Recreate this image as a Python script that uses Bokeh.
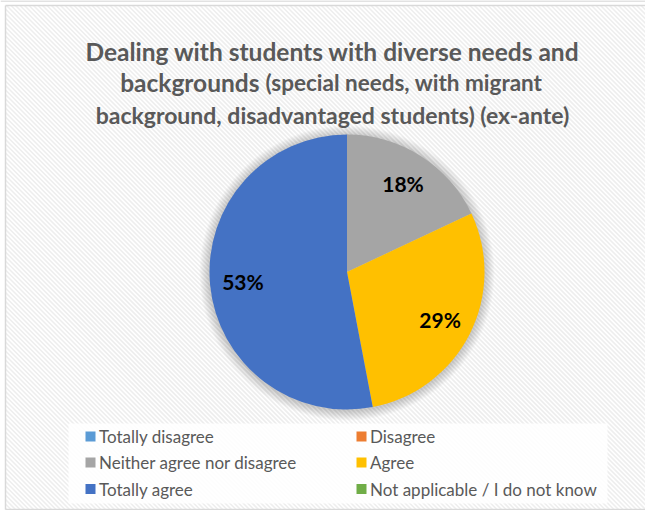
import numpy as np
from bokeh.plotting import figure
from bokeh.models import Range1d, ColumnDataSource
from bokeh.core.properties import value
from bokeh.embed import file_html
from bokeh.resources import INLINE

# ---- data ----
categories = ["Totally disagree", "Disagree", "Neither agree nor disagree",
              "Agree", "Totally agree", "Not applicable / I do not know"]
values = [0, 0, 18, 29, 53, 0]
colors = ["#5B9BD5", "#ED7D31", "#A5A5A5", "#FFC000", "#4472C4", "#70AD47"]
title_line1 = "Dealing with students with diverse needs and"
title_line2a = "backgrounds"
title_line2b = "(special needs, with migrant"
title_line3 = "background, disadvantaged students) (ex-ante)"

# ---- layout: data x = pixel x, data y = H - pixel y ----
W, H = 645, 510
FONT = "Lato"
TXT = "#595959"


def Y(py):
    return H - py


cx, cy, R = 346.5, Y(271.5), 137.5

p = figure(width=W, height=H, output_backend="svg", toolbar_location=None,
           x_range=Range1d(0, W), y_range=Range1d(0, H),
           min_border=0, outline_line_color=None)
p.axis.visible = False
p.grid.visible = False
p.background_fill_color = "white"
p.border_fill_color = "white"

# striped chart background inside the chart frame
fl, ft, fr, fb = 5, 5, W, 509
cs = np.arange(-(fr - fl) - (fb - ft), (fb - ft) + (fr - fl), 4.5)
xs0, ys0, xs1, ys1 = [], [], [], []
for c in cs:          # screen line: py = x + c
    xa = max(fl, ft - c)
    xb = min(fr, fb - c)
    if xb > xa:
        xs0.append(xa); ys0.append(Y(xa + c))
        xs1.append(xb); ys1.append(Y(xb + c))
p.segment(x0=xs0, y0=ys0, x1=xs1, y1=ys1, line_color="#EEEEEE", line_width=1.6)

# chart frame
p.segment(x0=[fl, fl, fl], y0=[Y(ft), Y(ft), Y(fb)], x1=[fl, fr, fr],
          y1=[Y(fb), Y(ft), Y(fb)], line_color="#D9D9D9", line_width=1.5)
p.segment(x0=[0], y0=[Y(0.5)], x1=[W], y1=[Y(0.5)], line_color="#D9D9D9", line_width=1.5)

# soft shadow around the pie
for k in range(1, 11):
    p.circle(x=[cx], y=[cy - 1], radius=R + k, fill_color="black",
             fill_alpha=0.018, line_color=None)

# wedges
vals = np.array(values, dtype=float)
frac = vals / vals.sum()
cum = np.concatenate([[0], np.cumsum(frac)])
start = np.pi / 2 - 2 * np.pi * cum[:-1]
end = np.pi / 2 - 2 * np.pi * cum[1:]
mask = vals > 0
src = ColumnDataSource(dict(start=start[mask], end=end[mask],
                            color=[c for c, m in zip(colors, mask) if m]))
p.wedge(x=cx, y=cy, radius=R, start_angle="start", end_angle="end",
        direction="clock", fill_color="color", line_color=None, source=src)

# percentage labels
mid = (start + end) / 2
lr = 0.76 * R
lsrc = ColumnDataSource(dict(
    x=(cx + lr * np.cos(mid))[mask], y=(cy + lr * np.sin(mid))[mask],
    t=[f"{int(round(v))}%" for v in vals[mask]]))
p.text(x="x", y="y", text="t", source=lsrc, text_font=value(FONT),
       text_font_style="bold", text_font_size="21px", text_color="black",
       text_align="center", text_baseline="middle")

# title
p.text(x=[332], y=[Y(51)], text=[title_line1], text_font=value(FONT),
       text_font_style="bold", text_font_size="24.5px", text_color=TXT,
       text_align="center", text_baseline="alphabetic")
p.text(x=[259], y=[Y(82)], text=[title_line2a], text_font=value(FONT),
       text_font_style="bold", text_font_size="24.5px", text_color=TXT,
       text_align="right", text_baseline="alphabetic")
p.text(x=[265], y=[Y(82)], text=[title_line2b], text_font=value(FONT),
       text_font_style="bold", text_font_size="22.5px", text_color=TXT,
       text_align="left", text_baseline="alphabetic")
p.text(x=[332], y=[Y(114)], text=[title_line3], text_font=value(FONT),
       text_font_style="bold", text_font_size="23px", text_color=TXT,
       text_align="center", text_baseline="alphabetic")

# legend box + items
p.quad(left=[68], right=[607], bottom=[Y(503)], top=[Y(423)],
       fill_color="white", fill_alpha=0.85, line_color=None)
col_x = [90, 361]
row_y = [436, 462, 488.5]
lx = [col_x[i % 2] for i in range(len(categories))]
ly = [Y(row_y[i // 2]) for i in range(len(categories))]
legsrc = ColumnDataSource(dict(x=lx, y=ly, tx=[v + 8.5 for v in lx],
                               label=categories, color=colors))
p.scatter(x="x", y="y", marker="square", size=10, fill_color="color",
          line_color=None, source=legsrc)
p.text(x="tx", y="y", text="label", source=legsrc, text_font=value(FONT),
       text_font_size="17px", text_color=TXT, text_align="left",
       text_baseline="middle")

open("out.html", "w").write(file_html(p, INLINE))
